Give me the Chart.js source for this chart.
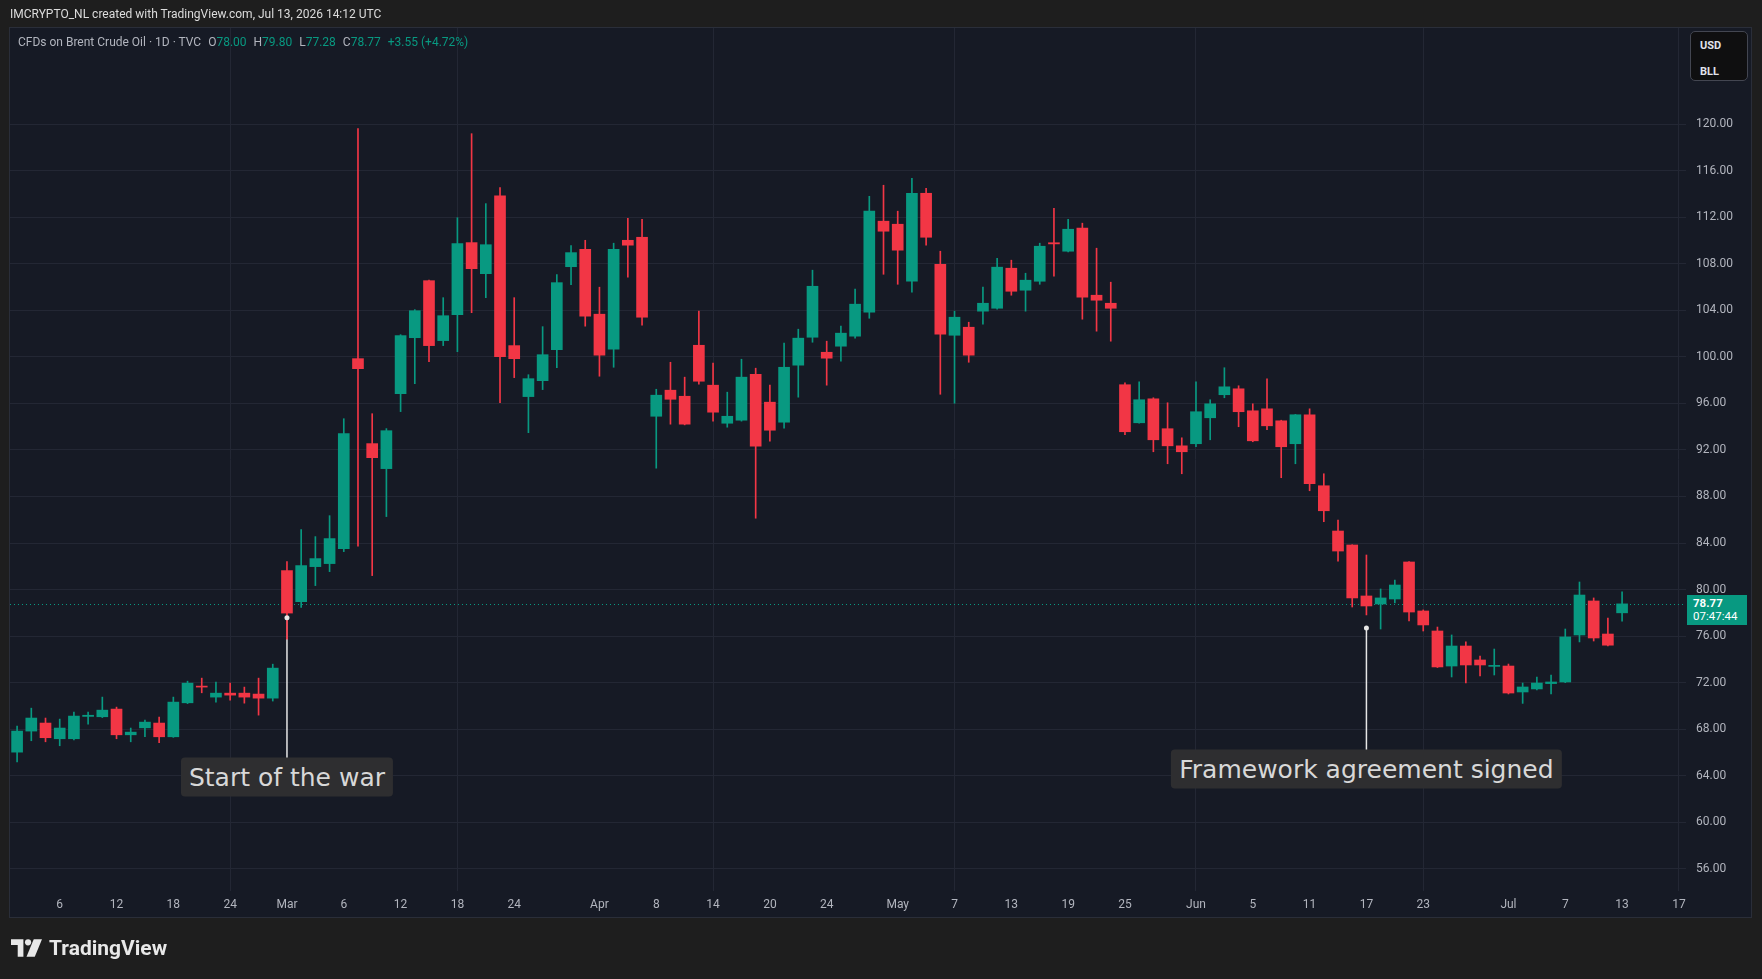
<!DOCTYPE html>
<html>
<head>
<meta charset="utf-8">
<title>Brent Crude Oil 1D</title>
<script src="https://cdn.jsdelivr.net/npm/chart.js@4.4.1/dist/chart.umd.min.js"></script>
<style>
  html, body { margin: 0; padding: 0; width: 1762px; height: 979px; overflow: hidden; background: #1e1e1e; font-family: Roboto, "Open Sans", sans-serif; }
  #panel { position: absolute; left: 9px; top: 27px; width: 1743px; height: 891px; box-sizing: border-box; background: #161a25; border: 1px solid #2a2e39; }
  #chart { position: absolute; left: 0; top: 0; }
  .hdr1 { position: absolute; left: 10px; top: 7px; font-size: 12px; color: #dcdcdc; white-space: nowrap; }
  .hdr2 { position: absolute; left: 18px; top: 35px; font-size: 12px; color: #b2b5be; white-space: nowrap; }
  .hdr2 span { margin-left: 7px; }
  .hdr2 span.first { margin-left: 0; }
  .up { color: #089981; }
  .unit { position: absolute; left: 1690px; top: 31px; width: 58px; height: 50px; box-sizing: border-box; background: #0f0f10; border: 1px solid #434651; border-radius: 5px; color: #e0e3eb; font-size: 11px; font-weight: bold; padding: 1px 0 0 9px; line-height: 26px; }
  .tag { position: absolute; width: 60px; height: 30px; background: #089981; color: #fff; font-size: 11.5px; line-height: 13px; padding: 2px 0 0 6px; box-sizing: border-box; }
  .tag b { display: block; }
  .anno { position: absolute; height: 39px; line-height: 39px; padding: 0 8px; background: #2e2e30; color: #d8d8d8; border-radius: 4px; font-family: "DejaVu Sans", sans-serif; font-size: 25px; white-space: nowrap; transform: translate(-50%, -50%); }
  .logo { position: absolute; left: 11px; top: 936px; height: 24px; display: flex; align-items: center; color: #e8e8e8; font-weight: bold; font-size: 21px; }
  .logo svg { margin-right: 7px; }
</style>
</head>
<body>
<div id="panel"></div>
<canvas id="chart" width="1762" height="979"></canvas>

<div class="hdr1">IMCRYPTO_NL created with TradingView.com, Jul 13, 2026 14:12 UTC</div>
<div class="hdr2"><span class="first">CFDs on Brent Crude Oil · 1D · TVC</span><span>O<b class="up" style="font-weight:normal">78.00</b></span><span>H<b class="up" style="font-weight:normal">79.80</b></span><span>L<b class="up" style="font-weight:normal">77.28</b></span><span>C<b class="up" style="font-weight:normal">78.77</b></span><span class="up">+3.55 (+4.72%)</span></div>
<div class="unit">USD<br>BLL</div>
<div class="tag" id="tag"><b>78.77</b>07:47:44</div>
<div class="anno" id="anno0">Start of the war</div>
<div class="anno" id="anno1">Framework agreement signed</div>
<div class="logo">
  <svg width="31" height="18" viewBox="0 0 30 17"><path d="M0 0H12V17H6.5V5.5H0Z" fill="#e8e8e8"/><circle cx="16.5" cy="3" r="3" fill="#e8e8e8"/><path d="M15 17L22 0H30L23 17Z" fill="#e8e8e8"/></svg>
  TradingView
</div>

<script>
// trading days, Feb 3 - Jul 13 2026, plus four empty future days
const dates = [
  '02-03','02-04','02-05','02-06','02-09','02-10','02-11','02-12','02-13','02-16','02-17','02-18','02-19','02-20','02-23','02-24','02-25','02-26','02-27',
  '03-02','03-03','03-04','03-05','03-06','03-09','03-10','03-11','03-12','03-13','03-16','03-17','03-18','03-19','03-20','03-23','03-24','03-25','03-26','03-27','03-30','03-31',
  '04-01','04-02','04-06','04-07','04-08','04-09','04-10','04-13','04-14','04-15','04-16','04-17','04-20','04-21','04-22','04-23','04-24','04-27','04-28','04-29','04-30',
  '05-01','05-04','05-05','05-06','05-07','05-08','05-11','05-12','05-13','05-14','05-15','05-18','05-19','05-20','05-21','05-22','05-25','05-26','05-27','05-28','05-29',
  '06-01','06-02','06-03','06-04','06-05','06-08','06-09','06-10','06-11','06-12','06-15','06-16','06-17','06-18','06-19','06-22','06-23','06-24','06-25','06-26','06-29','06-30',
  '07-01','07-02','07-03','07-06','07-07','07-08','07-09','07-10','07-13',
  '07-14','07-15','07-16','07-17'
];

const opens = [
  66.03,67.84,68.53,67.18,67.18,69.10,69.07,69.73,67.52,68.12,68.53,67.35,70.27,71.70,70.76,71.10,71.10,71.02,70.67,
  81.63,78.96,81.97,82.23,83.52,99.84,92.54,90.39,96.83,101.64,106.54,101.39,103.62,109.81,107.14,113.84,100.96,96.58,97.95,100.61,107.74,109.24,
  103.66,100.65,110.01,110.27,94.89,97.13,96.61,100.99,97.56,94.29,94.55,98.50,96.10,94.38,99.28,101.68,100.39,100.91,101.77,103.83,111.65,
  111.39,106.49,114.05,107.95,101.85,102.54,103.92,104.17,107.61,105.72,106.49,109.80,109.07,111.05,105.29,104.60,97.60,94.33,96.39,93.82,92.35,
  92.53,94.76,96.74,97.25,95.36,95.53,94.50,92.53,95.02,88.92,85.03,83.83,79.45,78.76,79.19,82.37,78.16,76.44,73.43,75.15,73.95,73.40,
  73.43,71.20,71.46,71.92,72.06,76.10,79.02,76.18,78.00
];
const highs = [
  68.27,69.81,68.96,68.87,69.47,69.47,70.76,69.90,68.10,68.78,69.04,70.76,72.13,72.39,72.05,71.96,71.62,72.39,73.59,
  82.40,85.15,84.55,86.35,94.68,119.60,95.11,93.83,101.90,104.05,106.60,105.08,111.95,119.17,113.16,114.53,105.08,98.46,102.59,107.06,109.55,110.01,
  105.98,109.76,111.90,111.82,97.21,99.53,98.25,103.92,99.45,96.96,99.79,99.02,97.56,101.17,102.37,107.44,101.34,102.63,105.81,113.79,114.74,
  112.51,115.34,114.48,109.07,103.92,102.97,105.98,108.47,108.30,107.18,109.76,112.76,111.82,111.48,109.33,106.41,97.77,97.85,96.48,96.05,93.04,
  97.85,96.31,99.06,97.51,95.96,98.11,94.55,95.05,95.53,89.95,85.98,83.85,82.97,80.05,80.82,82.40,78.25,76.78,76.10,75.50,74.29,74.89,
  73.60,71.97,72.49,72.66,76.61,80.65,79.28,77.56,79.80
];
const lows = [
  65.18,67.01,66.92,66.58,67.09,68.44,69.00,67.18,66.92,67.35,66.84,67.30,70.20,71.13,70.33,70.50,70.24,69.21,70.42,
  75.73,78.47,80.34,81.54,83.26,83.72,81.20,86.27,95.29,97.69,99.58,100.96,100.44,103.79,105.08,96.06,98.21,93.48,97.18,99.07,106.20,102.63,
  98.33,99.10,106.84,102.71,90.43,94.21,94.15,97.64,94.47,93.95,94.47,86.13,92.75,93.86,96.53,101.25,97.56,99.62,101.60,103.31,107.09,
  106.23,105.55,109.59,96.78,96.01,99.53,102.80,104.10,105.29,103.92,106.23,106.92,109.00,103.23,102.20,101.34,93.30,94.30,91.84,90.81,89.95,
  92.27,92.87,96.48,93.99,92.70,93.73,89.61,90.81,88.49,85.83,82.45,78.50,77.82,76.61,78.85,77.30,76.44,73.30,72.49,71.97,72.58,72.66,
  71.03,70.22,71.37,71.03,72.00,75.50,75.58,75.15,77.28
];
const closes = [
  67.84,68.96,67.27,68.10,69.13,69.20,69.64,67.52,67.75,68.61,67.35,70.33,71.96,71.62,71.10,70.93,70.76,70.67,73.25,
  77.98,82.06,82.66,84.38,93.40,98.98,91.33,93.65,101.82,103.96,100.96,103.53,109.72,107.57,109.63,100.01,99.84,98.12,100.18,106.37,108.95,103.49,
  100.14,109.24,109.59,103.40,96.70,96.35,94.21,97.90,95.24,94.89,98.25,92.32,93.69,99.10,101.60,106.06,99.88,102.03,104.52,112.51,110.79,
  109.16,114.05,110.27,101.94,103.40,100.14,104.60,107.70,105.63,106.58,109.50,109.70,110.96,105.12,104.86,104.17,93.56,96.31,92.87,92.35,91.84,
  95.28,95.96,97.42,95.28,92.78,94.07,92.27,95.02,89.09,86.77,83.31,79.28,78.59,79.28,80.39,78.07,76.96,73.35,75.15,73.52,73.52,73.46,
  71.11,71.63,71.97,72.06,75.93,79.53,75.84,75.22,78.77
];

// time axis labels (index into dates -> text)
const tickIdx  = [3, 7, 11, 15, 19, 23, 27, 31, 35, 41, 45, 49, 53, 57, 62, 66, 70, 74, 78, 83, 87, 91, 95, 99, 105, 109, 113, 117];
const tickText = ['6','12','18','24','Mar','6','12','18','24','Apr','8','14','20','24','May','7','13','19','25','Jun','5','11','17','23','Jul','7','13','17'];

// annotations: candle index, dot price, label centre price
const annoIdx   = [19, 95];
const annoDot   = [77.58, 76.70];
const annoLabel = [63.9, 64.6];

const GREEN = '#089981';
const RED = '#F23645';
const GRID = '#232734';
const TEXT = '#b2b5be';

const tickMap = {};
tickIdx.forEach((v, k) => { tickMap[v] = tickText[k]; });

const candleColor = ctx => closes[ctx.dataIndex] >= opens[ctx.dataIndex] ? GREEN : RED;

const overlays = {
  id: 'overlays',
  beforeDatasetsDraw(chart) {
    const { ctx, chartArea, scales: { x, y } } = chart;
    ctx.save();
    // last price line
    const py = Math.round(y.getPixelForValue(closes[closes.length - 1])) + 0.5;
    ctx.strokeStyle = GREEN;
    ctx.lineWidth = 1;
    ctx.setLineDash([1, 3]);
    ctx.beginPath();
    ctx.moveTo(chartArea.left, py);
    ctx.lineTo(chartArea.right, py);
    ctx.stroke();
    ctx.setLineDash([]);
    // annotation stems
    ctx.strokeStyle = '#e6e6e6';
    ctx.lineWidth = 1.5;
    annoIdx.forEach((idx, k) => {
      const ax = x.getPixelForValue(idx);
      ctx.beginPath();
      ctx.moveTo(ax, y.getPixelForValue(annoDot[k]));
      ctx.lineTo(ax, y.getPixelForValue(annoLabel[k]));
      ctx.stroke();
    });
    ctx.restore();
  },
  afterDatasetsDraw(chart) {
    const { ctx, scales: { x, y } } = chart;
    ctx.save();
    ctx.fillStyle = '#e6e6e6';
    annoIdx.forEach((idx, k) => {
      ctx.beginPath();
      ctx.arc(x.getPixelForValue(idx), y.getPixelForValue(annoDot[k]), 2.5, 0, Math.PI * 2);
      ctx.fill();
    });
    ctx.restore();
  },
  afterDraw(chart) {
    const { chartArea, scales: { x, y } } = chart;
    annoIdx.forEach((idx, k) => {
      const el = document.getElementById('anno' + k);
      el.style.left = x.getPixelForValue(idx) + 'px';
      el.style.top = y.getPixelForValue(annoLabel[k]) + 'px';
    });
    const tag = document.getElementById('tag');
    tag.style.left = (chartArea.right + 1) + 'px';
    tag.style.top = (y.getPixelForValue(closes[closes.length - 1]) - 9) + 'px';
  }
};

new Chart(document.getElementById('chart'), {
  type: 'bar',
  data: {
    labels: dates,
    datasets: [
      {
        label: 'body',
        data: opens.map((o, i) => [o, closes[i]]),
        backgroundColor: candleColor,
        barThickness: 11,
        minBarLength: 1,
        grouped: false,
        order: 0
      },
      {
        label: 'wick',
        data: lows.map((l, i) => [l, highs[i]]),
        backgroundColor: candleColor,
        barThickness: 1,
        grouped: false,
        order: 1
      }
    ]
  },
  options: {
    responsive: false,
    animation: false,
    layout: { padding: { left: 10, top: 28, right: 10, bottom: 61 } },
    plugins: { legend: { display: false }, tooltip: { enabled: false } },
    scales: {
      x: {
        type: 'category',
        offset: true,
        afterFit: s => { s.height = 27; },
        border: { display: false },
        grid: {
          offset: false,
          drawTicks: false,
          color: ctx => tickMap[ctx.index] !== undefined ? GRID : 'rgba(0,0,0,0)'
        },
        ticks: {
          autoSkip: false,
          maxRotation: 0,
          padding: 7,
          color: TEXT,
          font: { family: 'Roboto', size: 12 },
          callback: (v, i) => tickMap[i] !== undefined ? tickMap[i] : null
        }
      },
      y: {
        position: 'right',
        min: 54.1,
        max: 128.25,
        afterFit: s => { s.width = 66; },
        border: { display: false },
        grid: { color: GRID, drawTicks: false },
        ticks: {
          stepSize: 4,
          includeBounds: false,
          padding: 10,
          color: TEXT,
          font: { family: 'Roboto', size: 12 },
          callback: v => v > 121 ? null : v.toFixed(2)
        }
      }
    }
  },
  plugins: [overlays]
});
</script>
</body>
</html>
